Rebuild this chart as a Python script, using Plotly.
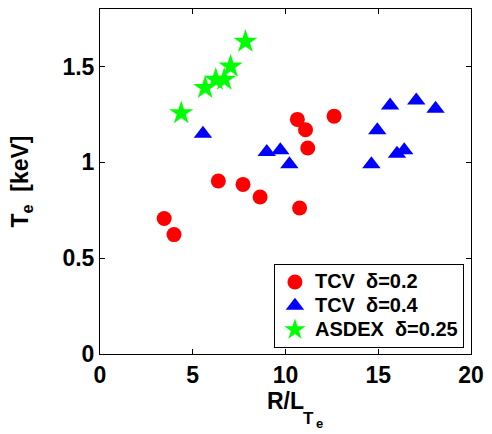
import plotly.graph_objects as go

# TCV delta=0.2 (red circles)
tcv02_x = [3.46, 3.99, 6.38, 7.71, 8.63, 10.76, 10.64, 11.08, 11.2, 12.62]
tcv02_y = [0.707, 0.623, 0.903, 0.885, 0.819, 0.762, 1.224, 1.170, 1.075, 1.241]
# TCV delta=0.4 (blue triangles)
tcv04_x = [5.55, 8.99, 9.72, 10.21, 14.63, 14.95, 15.64, 16.01, 16.4, 17.05, 18.09]
tcv04_y = [1.149, 1.054, 1.063, 0.99, 0.99, 1.167, 1.297, 1.045, 1.063, 1.323, 1.28]
# ASDEX delta=0.25 (green stars)
asdex_x = [4.38, 5.67, 6.24, 6.70, 7.04, 7.84]
asdex_y = [1.257, 1.389, 1.432, 1.432, 1.5, 1.630]

x_ticks = [0, 5, 10, 15, 20]
y_ticks = [0, 0.5, 1, 1.5]
y_tick_labels = ["0", "0.5", "1", "1.5"]

FONT = "Liberation Sans, Arial, sans-serif"

def b(s):
    return "<b>" + s + "</b>"

def leg(s):
    return '<span style="font-size:20px"><b>' + s + "</b></span>"

fig = go.Figure()
fig.add_trace(go.Scatter(x=tcv02_x, y=tcv02_y, mode="markers", name=leg("TCV  δ=0.2"),
                         marker=dict(symbol="circle", size=15, color="#ff0000")))
fig.add_trace(go.Scatter(x=tcv04_x, y=tcv04_y, mode="markers", name=leg("TCV  δ=0.4"),
                         marker=dict(symbol="triangle-up", size=16, color="#0000ff")))
fig.add_trace(go.Scatter(x=asdex_x, y=asdex_y, mode="markers", name=leg("ASDEX  δ=0.25"),
                         marker=dict(symbol="star", size=18, color="#00ff00")))

axis_common = dict(showline=True, linecolor="black", linewidth=1, mirror="ticks",
                   ticks="inside", ticklen=5, tickcolor="black", showgrid=False,
                   zeroline=False,
                   tickfont=dict(family=FONT, size=23, color="black"))

fig.update_xaxes(range=[0, 20], tickvals=x_ticks, ticktext=[b(str(v)) for v in x_ticks],
                 title=dict(text=b("R/L"), standoff=3,
                            font=dict(family=FONT, size=23, color="black")),
                 **axis_common)
fig.update_yaxes(range=[0, 1.8], tickvals=y_ticks, ticktext=[b(t) for t in y_tick_labels],
                 title=dict(text=b("T<sub>e</sub>  [keV]"), standoff=27,
                            font=dict(family=FONT, size=23, color="black")),
                 **axis_common)

# subscripts of the x-axis title
fig.add_annotation(text=b("T"), x=(311 - 100) / 376, y=(354 - 419) / 346, xref="paper", yref="paper",
                   showarrow=False, xanchor="center", yanchor="middle",
                   font=dict(family=FONT, size=17, color="black"))
fig.add_annotation(text=b("e"), x=(322 - 100) / 376, y=(354 - 424) / 346, xref="paper", yref="paper",
                   showarrow=False, xanchor="center", yanchor="middle",
                   font=dict(family=FONT, size=13, color="black"))

fig.update_layout(
    width=492, height=434,
    margin=dict(l=100, r=16, t=8, b=80),
    paper_bgcolor="white", plot_bgcolor="white",
    showlegend=True,
    legend=dict(x=0.981, y=0.017, xanchor="right", yanchor="bottom",
                bgcolor="white", bordercolor="black", borderwidth=1,
                font=dict(family=FONT, size=16, color="black"),
                tracegroupgap=0, itemwidth=30),
)

fig.write_html("out.html")
